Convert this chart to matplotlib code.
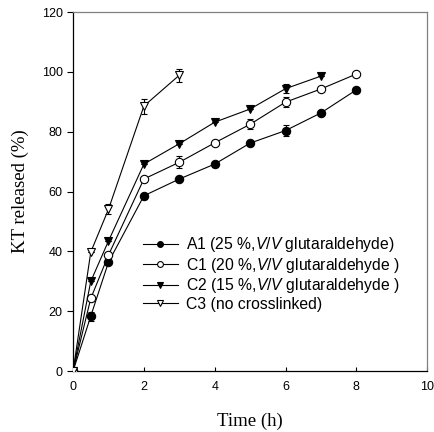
import matplotlib

matplotlib.use("Agg")
import matplotlib.pyplot as plt

plt.rcParams["font.family"] = ["Liberation Sans", "DejaVu Sans"]
plt.rcParams["mathtext.fontset"] = "custom"
plt.rcParams["mathtext.it"] = "Liberation Sans:italic"
plt.rcParams["mathtext.rm"] = "Liberation Sans"

# release data
t_a1 = [0, 0.5, 1, 2, 3, 4, 5, 6, 7, 8]
a1 = [0, 18.4, 36.4, 58.6, 64.2, 69.2, 76.2, 80.4, 86.3, 94.0]
a1_err = [0, 1.5, 0, 0, 0, 0, 0, 1.8, 0, 0]

t_c1 = [0, 0.5, 1, 2, 3, 4, 5, 6, 7, 8]
c1 = [0, 24.3, 38.8, 64.2, 69.8, 76.3, 82.5, 89.9, 94.3, 99.3]
c1_err = [0, 0, 0, 0, 2.0, 0, 1.7, 1.6, 0, 0]

t_c2 = [0, 0.5, 1, 2, 3, 4, 5, 6, 7]
c2 = [0, 30.0, 43.5, 69.2, 76.0, 83.2, 87.6, 94.4, 98.6]
c2_err = [0, 0, 0, 0, 0, 0, 0, 1.5, 0]

t_c3 = [0, 0.5, 1, 2, 3]
c3 = [0, 39.8, 54.1, 88.6, 98.9]
c3_err = [0, 0, 1.6, 2.5, 2.1]

labels = [
    r"A1 (25 %,$\it{V/V}$ glutaraldehyde)",
    r"C1 (20 %,$\it{V/V}$ glutaraldehyde )",
    r"C2 (15 %,$\it{V/V}$ glutaraldehyde )",
    "C3 (no crosslinked)",
]

fig = plt.figure(figsize=(4.35, 4.32), dpi=100)
ax = fig.add_axes([0.168, 0.141, 0.814, 0.831])

series = [
    (t_a1, a1, a1_err, "o", "black"),
    (t_c1, c1, c1_err, "o", "white"),
    (t_c2, c2, c2_err, "v", "black"),
    (t_c3, c3, c3_err, "v", "white"),
]
for (t, y, e, mk, fc), lab in zip(series, labels):
    ax.errorbar(t, y, yerr=e, color="black", lw=0.8, marker=mk, ms=6,
                mfc=fc, mec="black", mew=0.8, elinewidth=0.8, capsize=2.5,
                capthick=0.8, label=lab, zorder=3)

ax.set_xlim(0, 10)
ax.set_ylim(0, 120)
ax.set_xticks(range(0, 11, 2))
ax.set_yticks(range(0, 121, 20))
ax.tick_params(axis="x", direction="in", length=3, labelsize=9, width=0.8, pad=7)
ax.tick_params(axis="y", direction="out", length=4, labelsize=9, width=0.8)
for s in ("top", "right"):
    ax.spines[s].set_color("#808080")
for s in ("left", "bottom"):
    ax.spines[s].set_color("black")
for s in ax.spines.values():
    s.set_linewidth(0.9)

ax.set_xlabel("Time (h)", family="Liberation Serif", fontsize=13.5, labelpad=14)
ax.set_ylabel("KT released (%)", family="Liberation Serif", fontsize=13.5, labelpad=9)

handles, labs = ax.get_legend_handles_labels()
handles = [h[0] for h in handles]
ax.legend(handles, labs, loc="upper left", bbox_to_anchor=(0.198, 0.379),
          frameon=False, fontsize=11.3, handlelength=2.2, handletextpad=0.55,
          labelspacing=0.1, markerscale=0.7, borderaxespad=0, borderpad=0)

fig.savefig("out.png", dpi=100)
